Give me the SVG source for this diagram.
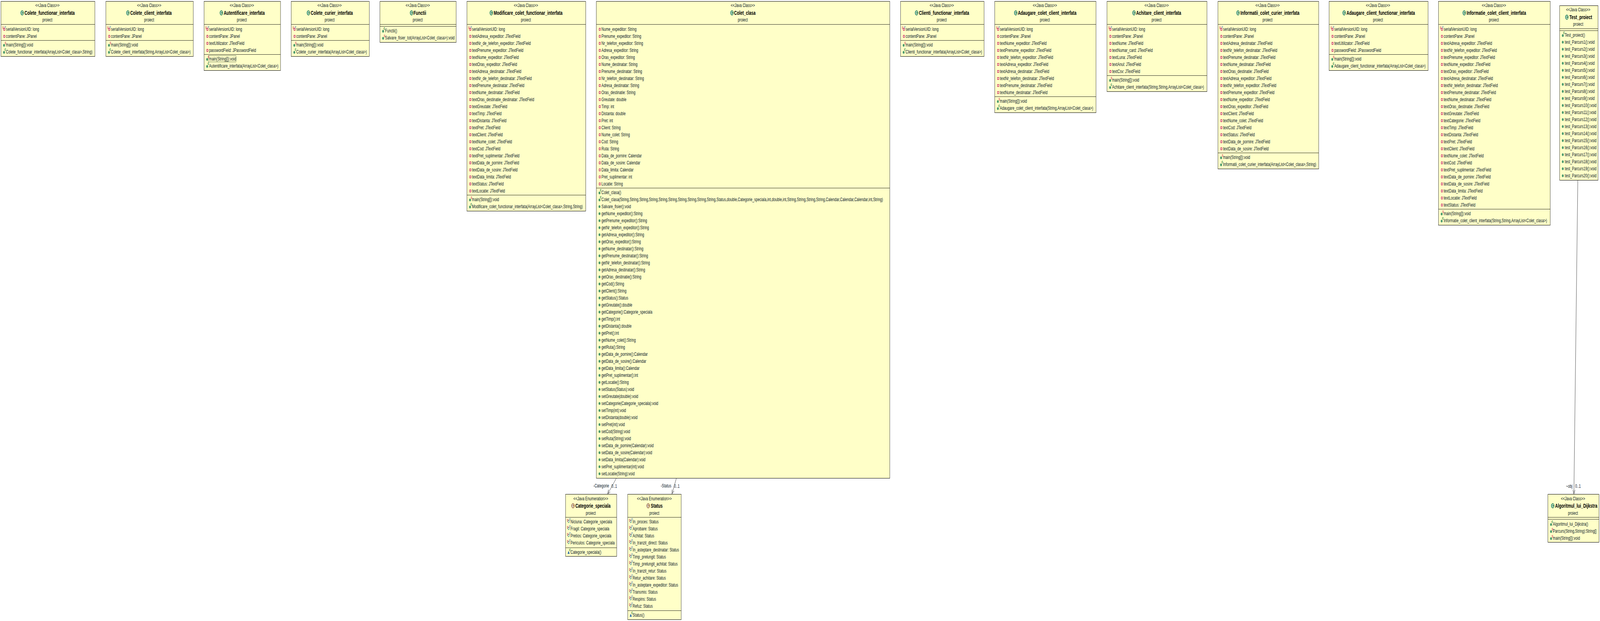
<svg xmlns="http://www.w3.org/2000/svg" width="6129" height="1590" viewBox="0 0 6129 1590" preserveAspectRatio="none" style="display:block;width:100vw;height:100vh">
<!-- Root sizing note: 100vw/100vh with preserveAspectRatio="none" is identical to 6129x1590 in a window of that size; it only keeps the whole diagram visible if the browser window is clamped narrower. -->
<style>
text{font-family:"Liberation Sans",Arial,sans-serif;font-size:12.8px;fill:#0c1a2b}
.b{fill:#ffffc8;stroke:#000;stroke-width:1}
.d{stroke:#000;stroke-width:1;fill:none}
.m{text-anchor:middle}
.h{font-weight:700;font-size:14.8px;fill:#000}
.ic{font-weight:700;font-size:10px;fill:#fff;text-anchor:middle}
.red{font-size:9.5px;fill:#c0003c}
.blue{font-size:9.5px;fill:#2050b0}
.gr{font-size:10px;font-weight:700;fill:#1f7a3a}
.cn{stroke:#333;stroke-width:1;fill:none}
</style>
<defs>
<marker id="arr" markerUnits="userSpaceOnUse" markerWidth="14" markerHeight="14" refX="11" refY="7" orient="auto"><path d="M1,2.5 L11,7 L1,11.5" fill="none" stroke="#333" stroke-width="1"/></marker>
<g id="p"><rect x="10.5" y="-2.5" width="5" height="5" fill="#fff" stroke="#c8224a" stroke-width="1.6"/></g>
<g id="sf"><use href="#p" y="0"/><text class="red" x="5" y="-1">S</text><text class="blue" x="14" y="-2">F</text></g>
<g id="o"><circle cx="12" cy="0" r="3.6" fill="#4c9a6e"/></g>
<g id="oc"><circle cx="12" cy="1" r="3.6" fill="#4c9a6e"/><text class="gr" x="14" y="-3">c</text></g>
<g id="os"><circle cx="12" cy="1" r="3.6" fill="#4c9a6e"/><text class="red" x="14.5" y="-2">S</text></g>
<g id="e"><circle cx="11.7" cy="-1" r="3" fill="#fff" stroke="#4c9a6e" stroke-width="1.4"/><text class="red" x="5" y="-1">S</text><text class="blue" x="14" y="-3">F</text></g>
<g id="t"><path d="M7.7,4 L11.7,-3.7 L15.7,4 Z" fill="#2a6aa8"/><text class="gr" x="14" y="-3.5">c</text></g>
<g id="gc"><circle r="6.4" fill="#3f8f63"/><text class="ic" y="3.6">C</text></g>
<g id="ge"><circle r="6.4" fill="#a67c52"/><text class="ic" y="3.6">E</text></g>
</defs>
<rect width="6129" height="1590" fill="#fff"/>

<g id="connectors">
<path class="cn" d="M2361,1224.5 L2328,1264.5" marker-end="url(#arr)"/>
<text x="2273" y="1248">-Categorie</text><text x="2342" y="1249">0..1</text>
<path class="cn" d="M2591,1224.5 L2574,1264.5" marker-end="url(#arr)"/>
<text x="2531" y="1248">-Status</text><text x="2582" y="1249">0..1</text>
<path class="cn" d="M6044,461.5 L6029,1264.5" marker-end="url(#arr)"/>
<text x="5999" y="1249">~obj</text><text x="6034" y="1249">0..1</text>
</g>

<g id="Colete_functionar_interfata" transform="translate(3.5,0)">
<rect class="b" y="3.5" width="360" height="141"/><path class="d" d="M0,62.5H360M0,103.5H360"/>
<text class="m" x="178" y="18">&lt;&lt;Java Class&gt;&gt;</text><use href="#gc" x="81.5" y="33"/><text class="h" x="90.5" y="38">Colete_functionar_interfata</text><text class="m" x="178" y="55">proiect</text>
<use href="#sf" y="75"/><text x="19.5" y="79">serialVersionUID: long</text>
<use href="#p" y="93"/><text x="19.5" y="97">contentPane: JPanel</text>
<use href="#os" y="115"/><text x="19.5" y="119">main(String[]):void</text>
<use href="#oc" y="133"/><text x="19.5" y="137">Colete_functionar_interfata(ArrayList&lt;Colet_clasa&gt;,String)</text>
</g>

<g id="Colete_client_interfata" transform="translate(405.5,0)">
<rect class="b" y="3.5" width="335" height="141"/><path class="d" d="M0,62.5H335M0,103.5H335"/>
<text class="m" x="166" y="18">&lt;&lt;Java Class&gt;&gt;</text><use href="#gc" x="84.5" y="33"/><text class="h" x="93.5" y="38">Colete_client_interfata</text><text class="m" x="166" y="55">proiect</text>
<use href="#sf" y="75"/><text x="19.5" y="79">serialVersionUID: long</text>
<use href="#p" y="93"/><text x="19.5" y="97">contentPane: JPanel</text>
<use href="#os" y="115"/><text x="19.5" y="119">main(String[]):void</text>
<use href="#oc" y="133"/><text x="19.5" y="137">Colete_client_interfata(String,ArrayList&lt;Colet_clasa&gt;)</text>
</g>

<g id="Autentificare_interfata" transform="translate(781.5,0)">
<rect class="b" y="3.5" width="293" height="177"/><path class="d" d="M0,62.5H293M0,139.5H293"/>
<text class="m" x="145" y="18">&lt;&lt;Java Class&gt;&gt;</text><use href="#gc" x="66.5" y="33"/><text class="h" x="75.5" y="38">Autentificare_interfata</text><text class="m" x="145" y="55">proiect</text>
<use href="#sf" y="75"/><text x="19.5" y="79">serialVersionUID: long</text>
<use href="#p" y="93"/><text x="19.5" y="97">contentPane: JPanel</text>
<use href="#p" y="111"/><text x="19.5" y="115">textUtilizator: JTextField</text>
<use href="#p" y="129"/><text x="19.5" y="133">passwordField: JPasswordField</text>
<rect x="16.5" y="142.5" width="106" height="16" fill="none" stroke="#6e7a5a" stroke-width="1"/>
<use href="#os" y="151"/><text x="19.5" y="155">main(String[]):void</text>
<use href="#oc" y="169"/><text x="19.5" y="173">Autentificare_interfata(ArrayList&lt;Colet_clasa&gt;)</text>
</g>

<g id="Colete_curier_interfata" transform="translate(1115.5,0)">
<rect class="b" y="3.5" width="299" height="141"/><path class="d" d="M0,62.5H299M0,103.5H299"/>
<text class="m" x="147" y="18">&lt;&lt;Java Class&gt;&gt;</text><use href="#gc" x="66" y="33"/><text class="h" x="75" y="38">Colete_curier_interfata</text><text class="m" x="147" y="55">proiect</text>
<use href="#sf" y="75"/><text x="19.5" y="79">serialVersionUID: long</text>
<use href="#p" y="93"/><text x="19.5" y="97">contentPane: JPanel</text>
<use href="#os" y="115"/><text x="19.5" y="119">main(String[]):void</text>
<use href="#oc" y="133"/><text x="19.5" y="137">Colete_curier_interfata(ArrayList&lt;Colet_clasa&gt;)</text>
</g>

<g id="Functii" transform="translate(1455.5,0)">
<rect class="b" y="3.5" width="292" height="105"/><path class="d" d="M0,62.5H292M0,67.5H292"/>
<text class="m" x="144.5" y="18">&lt;&lt;Java Class&gt;&gt;</text><use href="#gc" x="121" y="33"/><text class="h" x="128.5" y="38">Functii</text><text class="m" x="144.5" y="55">proiect</text>
<use href="#oc" y="79"/><text x="19.5" y="83">Functii()</text>
<use href="#os" y="97"/><text x="19.5" y="101">Salvare_fisier_tot(ArrayList&lt;Colet_clasa&gt;):void</text>
</g>

<g id="Modificare_colet_functionar_interfata" transform="translate(1788.5,0)">
<rect class="b" y="3.5" width="455" height="537"/><path class="d" d="M0,62.5H455M0,499.5H455"/>
<text class="m" x="226" y="18">&lt;&lt;Java Class&gt;&gt;</text><use href="#gc" x="93.5" y="33"/><text class="h" x="102.5" y="38">Modificare_colet_functionar_interfata</text><text class="m" x="226" y="55">proiect</text>
<use href="#sf" y="75"/><text x="19.5" y="79">serialVersionUID: long</text>
<use href="#p" y="93"/><text x="19.5" y="97">textAdresa_expeditor: JTextField</text>
<use href="#p" y="111"/><text x="19.5" y="115">textNr_de_telefon_expeditor: JTextField</text>
<use href="#p" y="129"/><text x="19.5" y="133">textPrenume_expeditor: JTextField</text>
<use href="#p" y="147"/><text x="19.5" y="151">textNume_expeditor: JTextField</text>
<use href="#p" y="165"/><text x="19.5" y="169">textOras_expeditor: JTextField</text>
<use href="#p" y="183"/><text x="19.5" y="187">textAdresa_destinatar: JTextField</text>
<use href="#p" y="201"/><text x="19.5" y="205">textNr_de_telefon_destinatar: JTextField</text>
<use href="#p" y="219"/><text x="19.5" y="223">textPrenume_destinatar: JTextField</text>
<use href="#p" y="237"/><text x="19.5" y="241">textNume_destinatar: JTextField</text>
<use href="#p" y="255"/><text x="19.5" y="259">textOras_destinatie_destinatar: JTextField</text>
<use href="#p" y="273"/><text x="19.5" y="277">textGreutate: JTextField</text>
<use href="#p" y="291"/><text x="19.5" y="295">textTimp: JTextField</text>
<use href="#p" y="309"/><text x="19.5" y="313">textDistanta: JTextField</text>
<use href="#p" y="327"/><text x="19.5" y="331">textPret: JTextField</text>
<use href="#p" y="345"/><text x="19.5" y="349">textClient: JTextField</text>
<use href="#p" y="363"/><text x="19.5" y="367">textNume_colet: JTextField</text>
<use href="#p" y="381"/><text x="19.5" y="385">textCod: JTextField</text>
<use href="#p" y="399"/><text x="19.5" y="403">textPret_suplimentar: JTextField</text>
<use href="#p" y="417"/><text x="19.5" y="421">textData_de_pornire: JTextField</text>
<use href="#p" y="435"/><text x="19.5" y="439">textData_de_sosire: JTextField</text>
<use href="#p" y="453"/><text x="19.5" y="457">textData_limita: JTextField</text>
<use href="#p" y="471"/><text x="19.5" y="475">textStatus: JTextField</text>
<use href="#p" y="489"/><text x="19.5" y="493">textLocatie: JTextField</text>
<use href="#os" y="511"/><text x="19.5" y="515">main(String[]):void</text>
<use href="#oc" y="529"/><text x="19.5" y="533">Modificare_colet_functionar_interfata(ArrayList&lt;Colet_clasa&gt;,String,String)</text>
</g>

<g id="Colet_clasa" transform="translate(2284.5,0)">
<rect class="b" y="3.5" width="1124" height="1221"/><path class="d" d="M0,62.5H1124M0,481.5H1124"/>
<text class="m" x="561" y="18">&lt;&lt;Java Class&gt;&gt;</text><use href="#gc" x="519.5" y="33"/><text class="h" x="527.5" y="38">Colet_clasa</text><text class="m" x="561" y="55">proiect</text>
<use href="#p" y="75"/><text x="19.5" y="79">Nume_expeditor: String</text>
<use href="#p" y="93"/><text x="19.5" y="97">Prenume_expeditor: String</text>
<use href="#p" y="111"/><text x="19.5" y="115">Nr_telefon_expeditor: String</text>
<use href="#p" y="129"/><text x="19.5" y="133">Adresa_expeditor: String</text>
<use href="#p" y="147"/><text x="19.5" y="151">Oras_expeditor: String</text>
<use href="#p" y="165"/><text x="19.5" y="169">Nume_destinatar: String</text>
<use href="#p" y="183"/><text x="19.5" y="187">Prenume_destinatar: String</text>
<use href="#p" y="201"/><text x="19.5" y="205">Nr_telefon_destinatar: String</text>
<use href="#p" y="219"/><text x="19.5" y="223">Adresa_destinatar: String</text>
<use href="#p" y="237"/><text x="19.5" y="241">Oras_destinatie: String</text>
<use href="#p" y="255"/><text x="19.5" y="259">Greutate: double</text>
<use href="#p" y="273"/><text x="19.5" y="277">Timp: int</text>
<use href="#p" y="291"/><text x="19.5" y="295">Distanta: double</text>
<use href="#p" y="309"/><text x="19.5" y="313">Pret: int</text>
<use href="#p" y="327"/><text x="19.5" y="331">Client: String</text>
<use href="#p" y="345"/><text x="19.5" y="349">Nume_colet: String</text>
<use href="#p" y="363"/><text x="19.5" y="367">Cod: String</text>
<use href="#p" y="381"/><text x="19.5" y="385">Ruta: String</text>
<use href="#p" y="399"/><text x="19.5" y="403">Data_de_pornire: Calendar</text>
<use href="#p" y="417"/><text x="19.5" y="421">Data_de_sosire: Calendar</text>
<use href="#p" y="435"/><text x="19.5" y="439">Data_limita: Calendar</text>
<use href="#p" y="453"/><text x="19.5" y="457">Pret_suplimentar: int</text>
<use href="#p" y="471"/><text x="19.5" y="475">Locatie: String</text>
<use href="#oc" y="493"/><text x="19.5" y="497">Colet_clasa()</text>
<use href="#oc" y="511"/><text x="19.5" y="515">Colet_clasa(String,String,String,String,String,String,String,String,String,String,Status,double,Categorie_speciala,int,double,int,String,String,String,String,Calendar,Calendar,Calendar,int,String)</text>
<use href="#o" y="529"/><text x="19.5" y="533">Salvare_fisier():void</text>
<use href="#o" y="547"/><text x="19.5" y="551">getNume_expeditor():String</text>
<use href="#o" y="565"/><text x="19.5" y="569">getPrenume_expeditor():String</text>
<use href="#o" y="583"/><text x="19.5" y="587">getNr_telefon_expeditor():String</text>
<use href="#o" y="601"/><text x="19.5" y="605">getAdresa_expeditor():String</text>
<use href="#o" y="619"/><text x="19.5" y="623">getOras_expeditor():String</text>
<use href="#o" y="637"/><text x="19.5" y="641">getNume_destinatar():String</text>
<use href="#o" y="655"/><text x="19.5" y="659">getPrenume_destinatar():String</text>
<use href="#o" y="673"/><text x="19.5" y="677">getNr_telefon_destinatar():String</text>
<use href="#o" y="691"/><text x="19.5" y="695">getAdresa_destinatar():String</text>
<use href="#o" y="709"/><text x="19.5" y="713">getOras_destinatie():String</text>
<use href="#o" y="727"/><text x="19.5" y="731">getCod():String</text>
<use href="#o" y="745"/><text x="19.5" y="749">getClient():String</text>
<use href="#o" y="763"/><text x="19.5" y="767">getStatus():Status</text>
<use href="#o" y="781"/><text x="19.5" y="785">getGreutate():double</text>
<use href="#o" y="799"/><text x="19.5" y="803">getCategorie():Categorie_speciala</text>
<use href="#o" y="817"/><text x="19.5" y="821">getTimp():int</text>
<use href="#o" y="835"/><text x="19.5" y="839">getDistanta():double</text>
<use href="#o" y="853"/><text x="19.5" y="857">getPret():int</text>
<use href="#o" y="871"/><text x="19.5" y="875">getNume_colet():String</text>
<use href="#o" y="889"/><text x="19.5" y="893">getRuta():String</text>
<use href="#o" y="907"/><text x="19.5" y="911">getData_de_pornire():Calendar</text>
<use href="#o" y="925"/><text x="19.5" y="929">getData_de_sosire():Calendar</text>
<use href="#o" y="943"/><text x="19.5" y="947">getData_limita():Calendar</text>
<use href="#o" y="961"/><text x="19.5" y="965">getPret_suplimentar():int</text>
<use href="#o" y="979"/><text x="19.5" y="983">getLocatie():String</text>
<use href="#o" y="997"/><text x="19.5" y="1001">setStatus(Status):void</text>
<use href="#o" y="1015"/><text x="19.5" y="1019">setGreutate(double):void</text>
<use href="#o" y="1033"/><text x="19.5" y="1037">setCategorie(Categorie_speciala):void</text>
<use href="#o" y="1051"/><text x="19.5" y="1055">setTimp(int):void</text>
<use href="#o" y="1069"/><text x="19.5" y="1073">setDistanta(double):void</text>
<use href="#o" y="1087"/><text x="19.5" y="1091">setPret(int):void</text>
<use href="#o" y="1105"/><text x="19.5" y="1109">setCod(String):void</text>
<use href="#o" y="1123"/><text x="19.5" y="1127">setRuta(String):void</text>
<use href="#o" y="1141"/><text x="19.5" y="1145">setData_de_pornire(Calendar):void</text>
<use href="#o" y="1159"/><text x="19.5" y="1163">setData_de_sosire(Calendar):void</text>
<use href="#o" y="1177"/><text x="19.5" y="1181">setData_limita(Calendar):void</text>
<use href="#o" y="1195"/><text x="19.5" y="1199">setPret_suplimentar(int):void</text>
<use href="#o" y="1213"/><text x="19.5" y="1217">setLocatie(String):void</text>
</g>

<g id="Clienti_functionar_interfata" transform="translate(3449.5,0)">
<rect class="b" y="3.5" width="320" height="141"/><path class="d" d="M0,62.5H320M0,103.5H320"/>
<text class="m" x="158" y="18">&lt;&lt;Java Class&gt;&gt;</text><use href="#gc" x="61.5" y="33"/><text class="h" x="70.5" y="38">Clienti_functionar_interfata</text><text class="m" x="158" y="55">proiect</text>
<use href="#sf" y="75"/><text x="19.5" y="79">serialVersionUID: long</text>
<use href="#p" y="93"/><text x="19.5" y="97">contentPane: JPanel</text>
<use href="#os" y="115"/><text x="19.5" y="119">main(String[]):void</text>
<use href="#oc" y="133"/><text x="19.5" y="137">Clienti_functionar_interfata(ArrayList&lt;Colet_clasa&gt;)</text>
</g>

<g id="Adaugare_colet_client_interfata" transform="translate(3810.5,0)">
<rect class="b" y="3.5" width="388" height="285"/><path class="d" d="M0,62.5H388M0,247.5H388"/>
<text class="m" x="192" y="18">&lt;&lt;Java Class&gt;&gt;</text><use href="#gc" x="80.5" y="33"/><text class="h" x="88.5" y="38">Adaugare_colet_client_interfata</text><text class="m" x="192" y="55">proiect</text>
<use href="#sf" y="75"/><text x="19.5" y="79">serialVersionUID: long</text>
<use href="#p" y="93"/><text x="19.5" y="97">contentPane: JPanel</text>
<use href="#p" y="111"/><text x="19.5" y="115">textNume_expeditor: JTextField</text>
<use href="#p" y="129"/><text x="19.5" y="133">textPrenume_expeditor: JTextField</text>
<use href="#p" y="147"/><text x="19.5" y="151">textNr_telefon_expeditor: JTextField</text>
<use href="#p" y="165"/><text x="19.5" y="169">textAdresa_expeditor: JTextField</text>
<use href="#p" y="183"/><text x="19.5" y="187">textAdresa_destinatar: JTextField</text>
<use href="#p" y="201"/><text x="19.5" y="205">textNr_telefon_destinatar: JTextField</text>
<use href="#p" y="219"/><text x="19.5" y="223">textPrenume_destinatar: JTextField</text>
<use href="#p" y="237"/><text x="19.5" y="241">textNume_destinatar: JTextField</text>
<use href="#os" y="259"/><text x="19.5" y="263">main(String[]):void</text>
<use href="#oc" y="277"/><text x="19.5" y="281">Adaugare_colet_client_interfata(String,ArrayList&lt;Colet_clasa&gt;)</text>
</g>

<g id="Achitare_client_interfata" transform="translate(4240.5,0)">
<rect class="b" y="3.5" width="383" height="231"/><path class="d" d="M0,62.5H383M0,193.5H383"/>
<text class="m" x="190" y="18">&lt;&lt;Java Class&gt;&gt;</text><use href="#gc" x="103.5" y="33"/><text class="h" x="111.5" y="38">Achitare_client_interfata</text><text class="m" x="190" y="55">proiect</text>
<use href="#sf" y="75"/><text x="19.5" y="79">serialVersionUID: long</text>
<use href="#p" y="93"/><text x="19.5" y="97">contentPane: JPanel</text>
<use href="#p" y="111"/><text x="19.5" y="115">textNume: JTextField</text>
<use href="#p" y="129"/><text x="19.5" y="133">textNumar_card: JTextField</text>
<use href="#p" y="147"/><text x="19.5" y="151">textLuna: JTextField</text>
<use href="#p" y="165"/><text x="19.5" y="169">textAnul: JTextField</text>
<use href="#p" y="183"/><text x="19.5" y="187">textCsv: JTextField</text>
<use href="#os" y="205"/><text x="19.5" y="209">main(String[]):void</text>
<use href="#oc" y="223"/><text x="19.5" y="227">Achitare_client_interfata(String,String,ArrayList&lt;Colet_clasa&gt;)</text>
</g>

<g id="Informatii_colet_curier_interfata" transform="translate(4665.5,0)">
<rect class="b" y="3.5" width="386" height="429"/><path class="d" d="M0,62.5H386M0,391.5H386"/>
<text class="m" x="190" y="18">&lt;&lt;Java Class&gt;&gt;</text><use href="#gc" x="77" y="33"/><text class="h" x="86" y="38">Informatii_colet_curier_interfata</text><text class="m" x="190" y="55">proiect</text>
<use href="#sf" y="75"/><text x="19.5" y="79">serialVersionUID: long</text>
<use href="#p" y="93"/><text x="19.5" y="97">contentPane: JPanel</text>
<use href="#p" y="111"/><text x="19.5" y="115">textAdresa_destinatar: JTextField</text>
<use href="#p" y="129"/><text x="19.5" y="133">textNr_telefon_destinatar: JTextField</text>
<use href="#p" y="147"/><text x="19.5" y="151">textPrenume_destinatar: JTextField</text>
<use href="#p" y="165"/><text x="19.5" y="169">textNume_destinatar: JTextField</text>
<use href="#p" y="183"/><text x="19.5" y="187">textOras_destinatie: JTextField</text>
<use href="#p" y="201"/><text x="19.5" y="205">textAdresa_expeditor: JTextField</text>
<use href="#p" y="219"/><text x="19.5" y="223">textNr_telefon_expeditor: JTextField</text>
<use href="#p" y="237"/><text x="19.5" y="241">textPrenume_expeditor: JTextField</text>
<use href="#p" y="255"/><text x="19.5" y="259">textNume_expeditor: JTextField</text>
<use href="#p" y="273"/><text x="19.5" y="277">textOras_expeditor: JTextField</text>
<use href="#p" y="291"/><text x="19.5" y="295">textClient: JTextField</text>
<use href="#p" y="309"/><text x="19.5" y="313">textNume_colet: JTextField</text>
<use href="#p" y="327"/><text x="19.5" y="331">textCod: JTextField</text>
<use href="#p" y="345"/><text x="19.5" y="349">textStatus: JTextField</text>
<use href="#p" y="363"/><text x="19.5" y="367">textData_de_pornire: JTextField</text>
<use href="#p" y="381"/><text x="19.5" y="385">textData_de_sosire: JTextField</text>
<use href="#os" y="403"/><text x="19.5" y="407">main(String[]):void</text>
<use href="#oc" y="421"/><text x="19.5" y="425">Informatii_colet_curier_interfata(ArrayList&lt;Colet_clasa&gt;,String)</text>
</g>

<g id="Adaugare_client_functionar_interfata" transform="translate(5091.5,0)">
<rect class="b" y="3.5" width="379" height="177"/><path class="d" d="M0,62.5H379M0,139.5H379"/>
<text class="m" x="187" y="18">&lt;&lt;Java Class&gt;&gt;</text><use href="#gc" x="57.5" y="33"/><text class="h" x="66.5" y="38">Adaugare_client_functionar_interfata</text><text class="m" x="187" y="55">proiect</text>
<use href="#sf" y="75"/><text x="19.5" y="79">serialVersionUID: long</text>
<use href="#p" y="93"/><text x="19.5" y="97">contentPane: JPanel</text>
<use href="#p" y="111"/><text x="19.5" y="115">textUtilizator: JTextField</text>
<use href="#p" y="129"/><text x="19.5" y="133">passwordField: JPasswordField</text>
<use href="#os" y="151"/><text x="19.5" y="155">main(String[]):void</text>
<use href="#oc" y="169"/><text x="19.5" y="173">Adaugare_client_functionar_interfata(ArrayList&lt;Colet_clasa&gt;)</text>
</g>

<g id="Informatie_colet_client_interfata" transform="translate(5510.5,0)">
<rect class="b" y="3.5" width="428" height="573"/><path class="d" d="M0,62.5H428M0,535.5H428"/>
<text class="m" x="212" y="18">&lt;&lt;Java Class&gt;&gt;</text><use href="#gc" x="98.5" y="33"/><text class="h" x="107.5" y="38">Informatie_colet_client_interfata</text><text class="m" x="212" y="55">proiect</text>
<use href="#sf" y="75"/><text x="19.5" y="79">serialVersionUID: long</text>
<use href="#p" y="93"/><text x="19.5" y="97">contentPane: JPanel</text>
<use href="#p" y="111"/><text x="19.5" y="115">textAdresa_expeditor: JTextField</text>
<use href="#p" y="129"/><text x="19.5" y="133">textNr_telefon_expeditor: JTextField</text>
<use href="#p" y="147"/><text x="19.5" y="151">textPrenume_expeditor: JTextField</text>
<use href="#p" y="165"/><text x="19.5" y="169">textNume_expeditor: JTextField</text>
<use href="#p" y="183"/><text x="19.5" y="187">textOras_expeditor: JTextField</text>
<use href="#p" y="201"/><text x="19.5" y="205">textAdresa_destinatar: JTextField</text>
<use href="#p" y="219"/><text x="19.5" y="223">textNr_telefon_destinatar: JTextField</text>
<use href="#p" y="237"/><text x="19.5" y="241">textPrenume_destinatar: JTextField</text>
<use href="#p" y="255"/><text x="19.5" y="259">textNume_destinatar: JTextField</text>
<use href="#p" y="273"/><text x="19.5" y="277">textOras_destinatie: JTextField</text>
<use href="#p" y="291"/><text x="19.5" y="295">textGreutate: JTextField</text>
<use href="#p" y="309"/><text x="19.5" y="313">textCategorie: JTextField</text>
<use href="#p" y="327"/><text x="19.5" y="331">textTimp: JTextField</text>
<use href="#p" y="345"/><text x="19.5" y="349">textDistanta: JTextField</text>
<use href="#p" y="363"/><text x="19.5" y="367">textPret: JTextField</text>
<use href="#p" y="381"/><text x="19.5" y="385">textClient: JTextField</text>
<use href="#p" y="399"/><text x="19.5" y="403">textNume_colet: JTextField</text>
<use href="#p" y="417"/><text x="19.5" y="421">textCod: JTextField</text>
<use href="#p" y="435"/><text x="19.5" y="439">textPret_suplimentar: JTextField</text>
<use href="#p" y="453"/><text x="19.5" y="457">textData_de_pornire: JTextField</text>
<use href="#p" y="471"/><text x="19.5" y="475">textData_de_sosire: JTextField</text>
<use href="#p" y="489"/><text x="19.5" y="493">textData_limita: JTextField</text>
<use href="#p" y="507"/><text x="19.5" y="511">textLocatie: JTextField</text>
<use href="#p" y="525"/><text x="19.5" y="529">textStatus: JTextField</text>
<use href="#os" y="547"/><text x="19.5" y="551">main(String[]):void</text>
<use href="#oc" y="565"/><text x="19.5" y="569">Informatie_colet_client_interfata(String,String,ArrayList&lt;Colet_clasa&gt;)</text>
</g>

<g id="Test_proiect" transform="translate(5974.5,0)">
<rect class="b" y="14.5" width="147" height="447"/><path class="d" d="M0,73.5H147M0,78.5H147"/>
<text class="m" x="71" y="29">&lt;&lt;Java Class&gt;&gt;</text><use href="#gc" x="27.5" y="44"/><text class="h" x="37.5" y="49">Test_proiect</text><text class="m" x="71" y="66">proiect</text>
<use href="#oc" y="90"/><text x="19.5" y="94">Test_proiect()</text>
<use href="#o" y="108"/><text x="19.5" y="112">test_Parcurs1():void</text>
<use href="#o" y="126"/><text x="19.5" y="130">test_Parcurs2():void</text>
<use href="#o" y="144"/><text x="19.5" y="148">test_Parcurs3():void</text>
<use href="#o" y="162"/><text x="19.5" y="166">test_Parcurs4():void</text>
<use href="#o" y="180"/><text x="19.5" y="184">test_Parcurs5():void</text>
<use href="#o" y="198"/><text x="19.5" y="202">test_Parcurs6():void</text>
<use href="#o" y="216"/><text x="19.5" y="220">test_Parcurs7():void</text>
<use href="#o" y="234"/><text x="19.5" y="238">test_Parcurs8():void</text>
<use href="#o" y="252"/><text x="19.5" y="256">test_Parcurs9():void</text>
<use href="#o" y="270"/><text x="19.5" y="274">test_Parcurs10():void</text>
<use href="#o" y="288"/><text x="19.5" y="292">test_Parcurs11():void</text>
<use href="#o" y="306"/><text x="19.5" y="310">test_Parcurs12():void</text>
<use href="#o" y="324"/><text x="19.5" y="328">test_Parcurs13():void</text>
<use href="#o" y="342"/><text x="19.5" y="346">test_Parcurs14():void</text>
<use href="#o" y="360"/><text x="19.5" y="364">test_Parcurs15():void</text>
<use href="#o" y="378"/><text x="19.5" y="382">test_Parcurs16():void</text>
<use href="#o" y="396"/><text x="19.5" y="400">test_Parcurs17():void</text>
<use href="#o" y="414"/><text x="19.5" y="418">test_Parcurs18():void</text>
<use href="#o" y="432"/><text x="19.5" y="436">test_Parcurs19():void</text>
<use href="#o" y="450"/><text x="19.5" y="454">test_Parcurs20():void</text>
</g>

<g id="Categorie_speciala" transform="translate(2166.5,0)">
<rect class="b" y="1265.5" width="196" height="159"/><path class="d" d="M0,1324.5H196M0,1402.5H196"/>
<text class="m" x="96.5" y="1281">&lt;&lt;Java Enumeration&gt;&gt;</text><use href="#ge" x="28.5" y="1295"/><text class="h" x="37.5" y="1300">Categorie_speciala</text><text class="m" x="96.5" y="1318">proiect</text>
<use href="#e" y="1336"/><text x="19" y="1340">Niciuna: Categorie_speciala</text>
<use href="#e" y="1354"/><text x="19" y="1358">Fragil: Categorie_speciala</text>
<use href="#e" y="1372"/><text x="19" y="1376">Pretios: Categorie_speciala</text>
<use href="#e" y="1390"/><text x="19" y="1394">Periculos: Categorie_speciala</text>
<use href="#t" y="1414"/><text x="19" y="1418">Categorie_speciala()</text>
</g>

<g id="Status" transform="translate(2404.5,0)">
<rect class="b" y="1265.5" width="205" height="321"/><path class="d" d="M0,1324.5H205M0,1563.5H205"/>
<text class="m" x="102" y="1281">&lt;&lt;Java Enumeration&gt;&gt;</text><use href="#ge" x="78.5" y="1295"/><text class="h" x="88.5" y="1300">Status</text><text class="m" x="102" y="1318">proiect</text>
<use href="#e" y="1336"/><text x="19" y="1340">In_proces: Status</text>
<use href="#e" y="1354"/><text x="19" y="1358">Aprobare: Status</text>
<use href="#e" y="1372"/><text x="19" y="1376">Achitat: Status</text>
<use href="#e" y="1390"/><text x="19" y="1394">In_tranzit_direct: Status</text>
<use href="#e" y="1408"/><text x="19" y="1412">In_asteptare_destinatar: Status</text>
<use href="#e" y="1426"/><text x="19" y="1430">Timp_prelungit: Status</text>
<use href="#e" y="1444"/><text x="19" y="1448">Timp_prelungit_achitat: Status</text>
<use href="#e" y="1462"/><text x="19" y="1466">In_tranzit_retur: Status</text>
<use href="#e" y="1480"/><text x="19" y="1484">Retur_achitare: Status</text>
<use href="#e" y="1498"/><text x="19" y="1502">In_asteptare_expeditor: Status</text>
<use href="#e" y="1516"/><text x="19" y="1520">Transmis: Status</text>
<use href="#e" y="1534"/><text x="19" y="1538">Respins: Status</text>
<use href="#e" y="1552"/><text x="19" y="1556">Refuz: Status</text>
<use href="#t" y="1575"/><text x="19" y="1579">Status()</text>
</g>

<g id="Algoritmul_lui_Dijkstra" transform="translate(5929.5,0)">
<rect class="b" y="1265.5" width="196" height="123"/><path class="d" d="M0,1324.5H196M0,1329.5H196"/>
<text class="m" x="96" y="1281">&lt;&lt;Java Class&gt;&gt;</text><use href="#gc" x="18.5" y="1295"/><text class="h" x="27.5" y="1300">Algoritmul_lui_Dijkstra</text><text class="m" x="96" y="1318">proiect</text>
<use href="#oc" y="1342"/><text x="19" y="1346">Algoritmul_lui_Dijkstra()</text>
<use href="#os" y="1360"/><text x="19" y="1364">Parcurs(String,String):String[]</text>
<use href="#os" y="1378"/><text x="19" y="1382">main(String[]):void</text>
</g>
</svg>
